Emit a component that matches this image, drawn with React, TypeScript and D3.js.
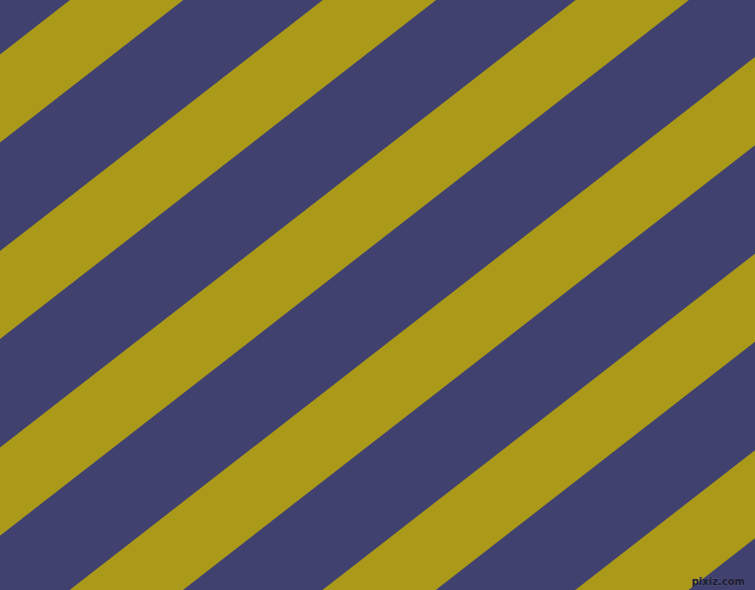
import React from "react";
import * as d3 from "d3";

// Pattern description
const bandNames = ["navy", "olive"];
const bandColors = ["#41416F", "#AB9A1A"];
const bandWidths = [139.5, 113.3]; // horizontal widths along the top edge
const firstOliveStart = 70; // top-edge x where the first olive band begins
const slopeK = 1.286; // x shift per unit y (lines go up-right)
const watermark = ["pixiz.com"];

const W = 755;
const H = 590;

export default function App() {
  const period = d3.sum(bandWidths);
  const indices = d3.range(-4, 8);
  const xStart = d3
    .scaleLinear()
    .domain([0, 1])
    .range([firstOliveStart, firstOliveStart + period]);
  const line = d3.line<[number, number]>();
  const oliveW = bandWidths[1];

  return (
    <svg
      width={W}
      height={H}
      viewBox={`0 0 ${W} ${H}`}
      style={{ position: "fixed", left: 0, top: 0, display: "block" }}
    >
      <rect x={0} y={0} width={W} height={H} fill={bandColors[0]} />
      {indices.map((n) => {
        const c = xStart(n);
        const pts: [number, number][] = [
          [c, 0],
          [c + oliveW, 0],
          [c + oliveW - slopeK * H, H],
          [c - slopeK * H, H],
        ];
        return (
          <path
            key={n}
            d={(line(pts) as string) + "Z"}
            fill={bandColors[1]}
            data-band={bandNames[1]}
          />
        );
      })}
      <text
        x={745}
        y={585}
        textAnchor="end"
        fontFamily="DejaVu Sans, sans-serif"
        fontSize={10}
        fontWeight="bold"
        fill="#1c1c30"
        stroke="#6a6a95"
        strokeWidth={0.3}
        paintOrder="stroke"
      >
        {watermark[0]}
      </text>
    </svg>
  );
}
